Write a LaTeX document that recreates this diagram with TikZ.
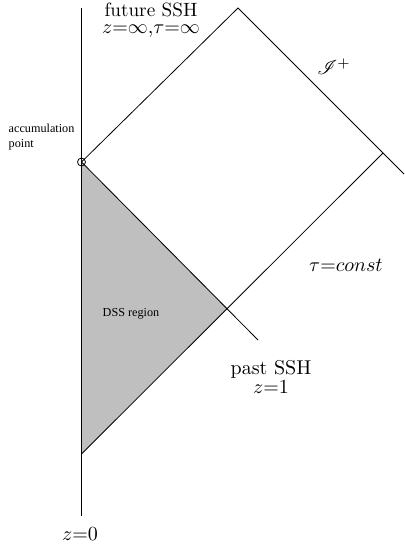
\documentclass[tikz,border=0pt]{standalone}
\usepackage{fontspec}
\usepackage{mathrsfs}
\newfontfamily\timesfont{Liberation Serif}
\usetikzlibrary{positioning}

\begin{document}
\begin{tikzpicture}[
        x=0.5pt,y=-0.5pt,
        line width=0.4pt,
        lbl/.style = {inner sep=0pt},
        twoline/.style = {inner sep=0pt,align=center,anchor=north,
            font=\fontsize{#1}{8.5}\selectfont},
        note/.style = {inner sep=0pt,align=left,
            font=\timesfont\fontsize{6.1}{7.5}\selectfont},
        accpt/.style = {circle,draw,inner sep=0pt,minimum size=4pt},
]
        \useasboundingbox (0,0) rectangle (404,548);
        % corners of the diagram
        \coordinate (axtop) at (81.5,8);
        \coordinate (axbot) at (81.5,516);
        \coordinate (top) at (238,8);
        \coordinate (right) at (383,153);
        \coordinate (rightend) at (404,174);
        \coordinate (bottom) at (81.5,454);
        \coordinate (cross) at (227.5,308);
        \coordinate (pastend) at (258,340);
        \coordinate (A) at (81.5,162);
        % DSS region
        \fill[lightgray] (A) -- (cross) -- (bottom) -- cycle;
        \draw (axtop) -- (axbot);
        \draw (A) -- (top) -- (rightend);
        \draw (bottom) -- (right);
        \draw (A) -- (pastend);
        \node[accpt] (acc) at (A) {};
        % labels
        \node[twoline=9.6] (future) at (151,2.5)
            {future SSH\\$z{=}\infty{,}\tau{=}\infty$};
        \node[note,anchor=base west] (accl) at (8.3,147.7) {accumulation\\point};
        \node[note] (dss) at (131,314) {DSS region};
        \node[lbl] (scri) at (334,67) {$\mathscr{I}^+$};
        \node[lbl] (tau) at (346,265) {$\tau{=}const$};
        \node[twoline=10,font=\fontsize{10}{9.7}\selectfont] (past) at (271,359.5)
            {past SSH\\$z{=}1$};
        \node[lbl] (zero) at (80,534) {$z{=}0$};
\end{tikzpicture}
\end{document}
